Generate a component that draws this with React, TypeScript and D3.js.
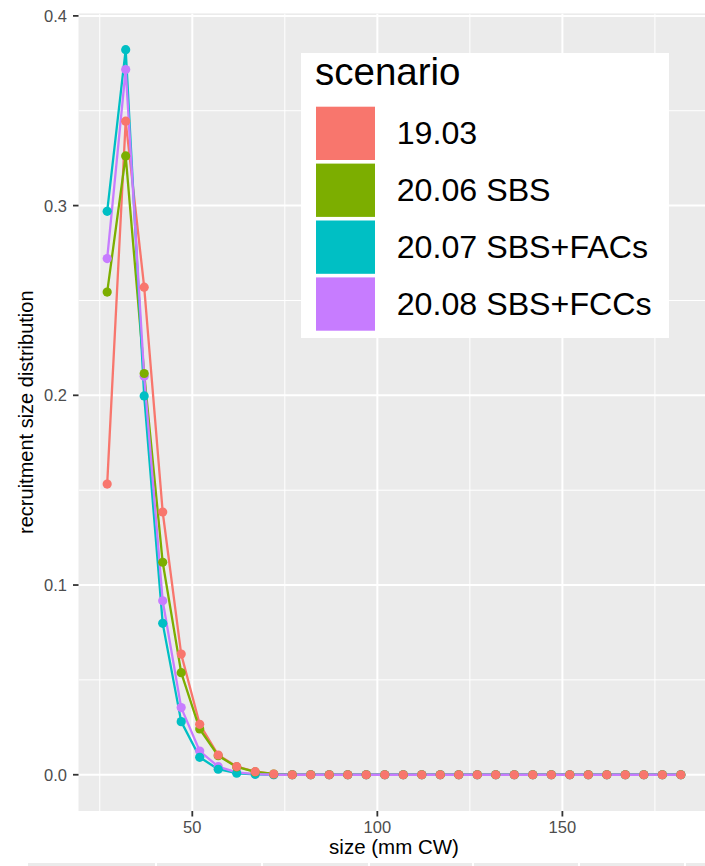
import React from "react";
import * as d3 from "d3";

const sizes = [27, 32, 37, 42, 47, 52, 57, 62, 67, 72, 77, 82, 87, 92, 97, 102, 107, 112, 117, 122, 127, 132, 137, 142, 147, 152, 157, 162, 167, 172, 177, 182];

const scenarios = ["19.03", "20.06 SBS", "20.07 SBS+FACs", "20.08 SBS+FCCs"];
const colors = ["#F8766D", "#7CAE00", "#00BFC4", "#C77CFF"];

const head1903 = [0.1532, 0.3445, 0.257, 0.1385, 0.0636, 0.0266, 0.0104, 0.0043, 0.0016, 0.0004];
const head2006 = [0.2544, 0.3262, 0.2115, 0.112, 0.0538, 0.0241, 0.0100, 0.0041, 0.0015, 0.0004];
const head2007 = [0.297, 0.3822, 0.1997, 0.0798, 0.028, 0.0092, 0.0029, 0.0008, 0.0002, 0.0];
const head2008 = [0.2721, 0.3717, 0.2101, 0.0917, 0.0354, 0.0125, 0.0043, 0.0013, 0.0003, 0.0];

const pad = (arr: number[]) => sizes.map((_, i) => (i < arr.length ? arr[i] : 0));
const seriesValues = [pad(head1903), pad(head2006), pad(head2007), pad(head2008)];

const xMajor = [50, 100, 150];
const xMinor = [25, 75, 125, 175];
const yMajor = [0, 0.1, 0.2, 0.3, 0.4];
const yMinor = [0.05, 0.15, 0.25, 0.35];
const yTickLabels = ["0.0", "0.1", "0.2", "0.3", "0.4"];

export default function App() {
  const W = 705;
  const H = 866;
  const xMin = d3.min(sizes)!;
  const xMax = d3.max(sizes)!;
  const xPad = (xMax - xMin) * 0.05;
  const yMaxV = d3.max(seriesValues.flat())!;
  const yPad = yMaxV * 0.05;

  const panelLeft = 78.5;
  const panelRight = 709.5;
  const panelTop = 13.4;
  const panelBottom = 811;

  const x = d3.scaleLinear().domain([xMin - xPad, xMax + xPad]).range([panelLeft, panelRight]);
  const y = d3.scaleLinear().domain([-yPad, yMaxV + yPad]).range([panelBottom, panelTop]);

  const line = d3
    .line<number>()
    .x((_, i) => x(sizes[i]))
    .y((d) => y(d));

  const tickColor = "#333333";
  const textGrey = "#4D4D4D";
  const font = "'Liberation Sans', Arial, Helvetica, sans-serif";

  const keyTop = 106.7;
  const keyPitch = 56.9;
  const keyH = 53.3;

  const stripGaps = [156, 262, 369, 473, 579, 685];

  return (
    <svg
      width={W}
      height={H}
      style={{ position: "absolute", left: 0, top: 0, background: "#FFFFFF" }}
      fontFamily={font}
    >
      <rect x={0} y={0} width={W} height={H} fill="#FFFFFF" />
      <defs>
        <clipPath id="panelClip">
          <rect x={panelLeft} y={panelTop} width={panelRight - panelLeft} height={panelBottom - panelTop} />
        </clipPath>
      </defs>
      {/* panel */}
      <rect x={panelLeft} y={panelTop} width={panelRight - panelLeft} height={panelBottom - panelTop} fill="#EBEBEB" />
      <g clipPath="url(#panelClip)">
        {xMinor.map((v) => (
          <line key={"xm" + v} x1={x(v)} x2={x(v)} y1={panelTop} y2={panelBottom} stroke="#FFFFFF" strokeWidth={1} />
        ))}
        {yMinor.map((v) => (
          <line key={"ym" + v} x1={panelLeft} x2={panelRight} y1={y(v)} y2={y(v)} stroke="#FFFFFF" strokeWidth={1} />
        ))}
        {xMajor.map((v) => (
          <line key={"xM" + v} x1={x(v)} x2={x(v)} y1={panelTop} y2={panelBottom} stroke="#FFFFFF" strokeWidth={2} />
        ))}
        {yMajor.map((v) => (
          <line key={"yM" + v} x1={panelLeft} x2={panelRight} y1={y(v)} y2={y(v)} stroke="#FFFFFF" strokeWidth={2} />
        ))}
        {seriesValues.map((vals, s) => (
          <path key={"l" + s} d={line(vals) || ""} fill="none" stroke={colors[s]} strokeWidth={2.3} strokeLinejoin="round" />
        ))}
        {[3, 2, 1, 0].map((s) =>
          seriesValues[s].map((v, i) => (
            <circle key={"p" + s + "-" + i} cx={x(sizes[i])} cy={y(v)} r={4.6} fill={colors[s]} />
          ))
        )}
      </g>
      {/* y axis */}
      {yMajor.map((v, i) => (
        <g key={"yt" + v}>
          <line x1={panelLeft - 5.5} x2={panelLeft} y1={y(v)} y2={y(v)} stroke={tickColor} strokeWidth={1.8} />
          <text x={67} y={y(v)} dy="0.36em" textAnchor="end" fontSize={16.5} fill={textGrey}>
            {yTickLabels[i]}
          </text>
        </g>
      ))}
      {/* x axis */}
      {xMajor.map((v) => (
        <g key={"xt" + v}>
          <line x1={x(v)} x2={x(v)} y1={panelBottom} y2={panelBottom + 5.5} stroke={tickColor} strokeWidth={1.8} />
          <text x={x(v)} y={832.7} textAnchor="middle" fontSize={16.5} fill={textGrey}>
            {v}
          </text>
        </g>
      ))}
      <text x={(panelLeft + panelRight) / 2} y={854} textAnchor="middle" fontSize={20.5} fill="#000000">
        size (mm CW)
      </text>
      <text
        transform={`translate(33, ${(panelTop + panelBottom) / 2}) rotate(-90)`}
        textAnchor="middle"
        fontSize={20}
        fill="#000000"
      >
        recruitment size distribution
      </text>
      {/* legend */}
      <rect x={301} y={53} width={368} height={285} fill="#FFFFFF" />
      <text x={315} y={85} fontSize={38.5} fill="#000000">
        scenario
      </text>
      {scenarios.map((name, i) => (
        <g key={"lg" + i}>
          <rect x={316} y={keyTop + i * keyPitch} width={59} height={keyH} fill={colors[i]} />
          <text x={396.7} y={keyTop + i * keyPitch + keyH / 2 + 10.8} fontSize={32.2} fill="#000000">
            {name}
          </text>
        </g>
      ))}
      {/* strip of next panel at bottom */}
      <rect x={28} y={863} width={W - 28} height={3} fill="#EBEBEB" />
      {stripGaps.map((g) => (
        <rect key={"sg" + g} x={g - 1} y={863} width={2} height={3} fill="#FFFFFF" />
      ))}
    </svg>
  );
}
